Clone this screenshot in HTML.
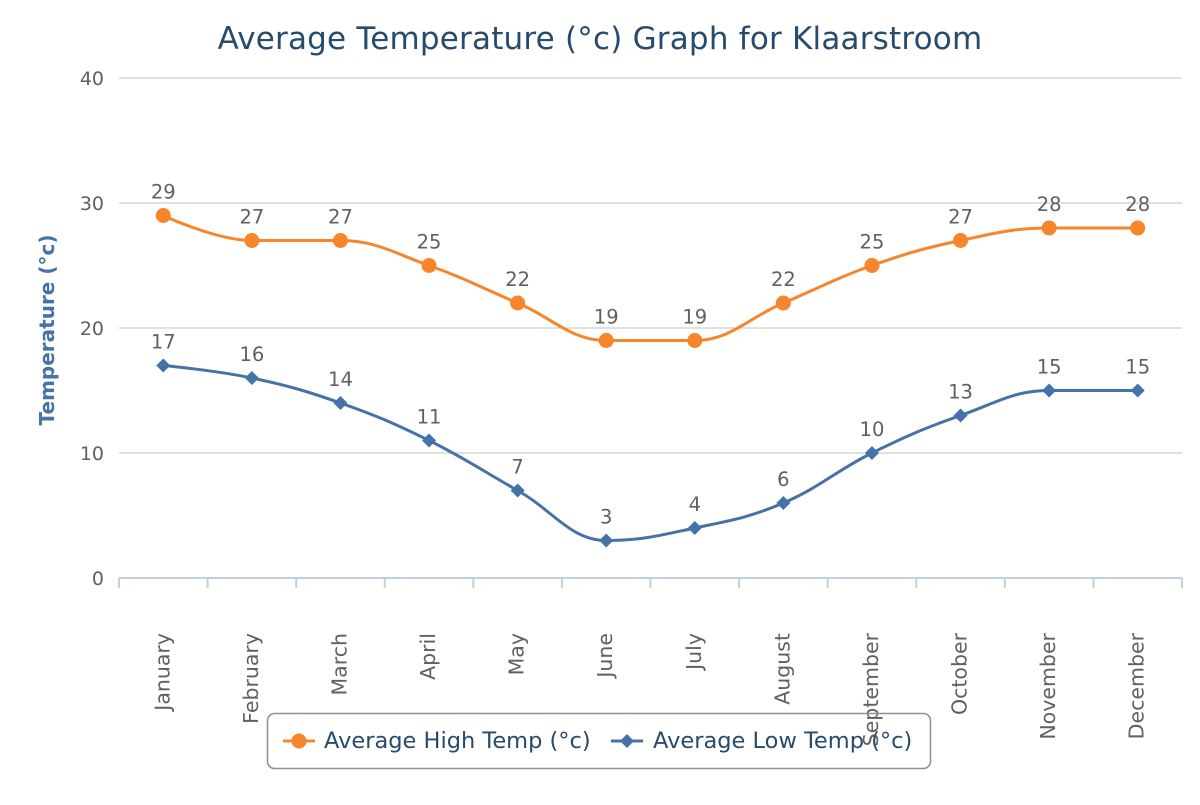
<!DOCTYPE html>
<html><head><meta charset="utf-8"><style>
body{margin:0;background:#fff}
svg{font-family:"DejaVu Sans","Liberation Sans",sans-serif}
</style></head><body>
<svg id="c" width="1200" height="800" xmlns="http://www.w3.org/2000/svg">
<text x="600" y="49" text-anchor="middle" font-size="31" letter-spacing="0.2" fill="#274b6d">Average Temperature (°c) Graph for Klaarstroom</text>
<text transform="translate(54,330) rotate(-90)" text-anchor="middle" font-size="20" font-weight="bold" fill="#4572a7">Temperature (°c)</text>
<g id="grid"></g><g id="xa"></g><g id="series"></g>
<g>
<rect x="267.5" y="713.5" width="663" height="55" rx="7" fill="none" stroke="#909090" stroke-width="1.5"/>
<g>
<line x1="283" y1="741" x2="315" y2="741" stroke="#f7852b" stroke-width="3"/><circle cx="299" cy="741" r="7.5" fill="#f7852b"/>
<text x="324" y="748" font-size="22.5" fill="#274b6d">Average High Temp (°c)</text></g>
<g>
<line x1="611" y1="741" x2="643" y2="741" stroke="#4572a7" stroke-width="3"/><path d="M627 734 L634 741 L627 748 L620 741Z" fill="#4572a7"/>
<text x="653" y="748" font-size="22.5" fill="#274b6d">Average Low Temp (°c)</text></g>
</g>
</svg>
<script>
const categories=["January","February","March","April","May","June","July","August","September","October","November","December"];
const highTemps=[29,27,27,25,22,19,19,22,25,27,28,28];
const lowTemps=[17,16,14,11,7,3,4,6,10,13,15,15];
const yTicks=[0,10,20,30,40];
const NS="http://www.w3.org/2000/svg";
const L=119,R=1182,T=78,B=578,yMax=40;
const cw=(R-L)/categories.length;
const xS=i=>L+cw*(i+0.5);
const yS=v=>B-(B-T)*v/yMax;
function mk(t,a,p){const e=document.createElementNS(NS,t);for(const k in a)e.setAttribute(k,a[k]);p.appendChild(e);return e;}
const grid=document.getElementById('grid');
yTicks.forEach(v=>{
  if(v>0){const l=mk('line',{x1:L,x2:R,y1:yS(v),y2:yS(v),stroke:'#c0c0c0','stroke-width':1},grid);
  
  }
  const t=mk('text',{x:104,y:yS(v)+7,'text-anchor':'end','font-size':19,fill:'#606060'},grid);t.textContent=v;
  
  
});
const xa=document.getElementById('xa');
const ax=mk('line',{x1:L,x2:R,y1:B,y2:B,stroke:'#c0d0e0','stroke-width':2},xa);


for(let i=0;i<=categories.length;i++){const x=L+cw*i;mk('line',{x1:x,x2:x,y1:B,y2:B+10,stroke:'#c0d0e0','stroke-width':2},xa);}
categories.forEach((c,i)=>{
  const t=mk('text',{transform:`translate(${xS(i)+6},633) rotate(-90)`,'text-anchor':'end','font-size':20.5,fill:'#606060'},xa);
  t.textContent=c;
  
  
});
function spline(pts){
  const sm=1.5,den=2.5;let d=`M${pts[0][0]} ${pts[0][1]}`;
  const cps=pts.map((p,i)=>{
    if(i===0||i===pts.length-1)return null;
    const a=pts[i-1],b=pts[i+1];
    let lx=(sm*p[0]+a[0])/den,ly=(sm*p[1]+a[1])/den,rx=(sm*p[0]+b[0])/den,ry=(sm*p[1]+b[1])/den;
    if(rx!==lx){const c=(ry-ly)/(rx-lx);ly=p[1]+(lx-p[0])*c; ry=p[1]+(rx-p[0])*c;}
    if(ly>Math.max(a[1],p[1])||ly<Math.min(a[1],p[1])){ly=Math.max(Math.min(ly,Math.max(a[1],p[1])),Math.min(a[1],p[1]));ry=2*p[1]-ly;}
    if(ry>Math.max(b[1],p[1])||ry<Math.min(b[1],p[1])){ry=Math.max(Math.min(ry,Math.max(b[1],p[1])),Math.min(b[1],p[1]));ly=2*p[1]-ry;}
    return {lx,ly,rx,ry};
  });
  for(let i=1;i<pts.length;i++){
    const p0=pts[i-1],p=pts[i];
    const c1=cps[i-1]?[cps[i-1].rx,cps[i-1].ry]:p0;
    const c2=cps[i]?[cps[i].lx,cps[i].ly]:p;
    d+=` C${c1[0]} ${c1[1]} ${c2[0]} ${c2[1]} ${p[0]} ${p[1]}`;
  }
  return d;
}
const sg=document.getElementById('series');
function draw(vals,color,marker,name){
  const g=mk('g',{},sg);
  
  
  const pts=vals.map((v,i)=>[xS(i),yS(v)]);
  const p=mk('path',{d:spline(pts),fill:'none',stroke:color,'stroke-width':3},g);
  
  
  pts.forEach((q,i)=>{
    let m;
    if(marker==='circle')m=mk('circle',{cx:q[0],cy:q[1],r:7.5,fill:color},g);
    else m=mk('path',{d:`M${q[0]} ${q[1]-7} L${q[0]+7} ${q[1]} L${q[0]} ${q[1]+7} L${q[0]-7} ${q[1]}Z`,fill:color},g);
    
    
    const t=mk('text',{x:q[0],y:q[1]-17,'text-anchor':'middle','font-size':19.5,fill:'#606060'},g);
    t.textContent=vals[i];
    
    
  });
}
draw(highTemps,'#f7852b','circle','high-temp');
draw(lowTemps,'#4572a7','diamond','low-temp');
</script>
</body></html>
